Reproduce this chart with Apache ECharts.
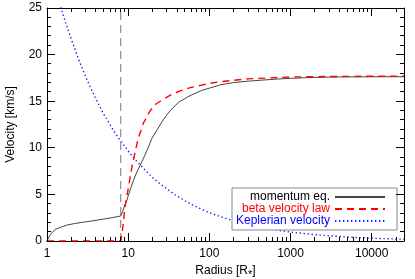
<!DOCTYPE html>
<html><head><meta charset="utf-8">
<script src="https://cdn.jsdelivr.net/npm/echarts@6/dist/echarts.min.js"></script>
<style>html,body{margin:0;padding:0;background:#fff}#c{width:415px;height:279px}</style>
</head><body><div id="c"></div>
<script>
// Data
const radiusMomentum = [1, 1.1, 1.26, 1.5, 1.75, 2.2, 2.8, 3.4, 4.2, 5.2, 6.5, 8.1, 8.5, 9.0, 9.65, 10.5, 11.6, 12.8, 14, 15.5, 17, 19.6, 22.6, 27, 33, 42, 58, 80, 100, 136, 200, 300, 425, 700, 1000, 1900, 4000, 10000, 25000];
const vMomentum      = [0, 0.7, 1.25, 1.5, 1.7, 1.88, 2.02, 2.12, 2.25, 2.38, 2.52, 2.68, 3.1, 3.75, 4.4, 5.4, 6.5, 7.4, 8.1, 8.9, 9.7, 11.0, 11.9, 13.0, 14.0, 14.9, 15.6, 16.15, 16.4, 16.75, 17.0, 17.15, 17.25, 17.38, 17.45, 17.55, 17.6, 17.62, 17.63];
const radiusBeta     = [1, 8.1, 8.25, 8.6, 9.15, 10.1, 11.1, 12.8, 13.4, 15.5, 18.7, 22, 27, 34, 43.8, 58, 77.5, 100, 137, 300, 1000, 3000, 25000];
const vBeta          = [0, 0, 0.4, 1.5, 3.7, 5.8, 7.9, 10.4, 11.1, 12.7, 14.0, 14.7, 15.2, 15.7, 16.1, 16.45, 16.7, 16.9, 17.1, 17.4, 17.6, 17.65, 17.7];
const radiusKepler   = [1, 1.2, 1.45, 1.7, 2, 2.5, 3, 3.5, 4, 5, 6, 7, 8, 10, 12, 15, 20, 25, 30, 40, 50, 60, 80, 100, 140, 200, 300, 500, 700, 1000, 1500, 2000, 3000, 5000, 7000, 10000, 15000, 25000];
const vKepler        = [30.5, 27.8, 25.3, 23.4, 21.6, 19.3, 17.6, 16.3, 15.25, 13.6, 12.45, 11.5, 10.8, 9.65, 8.8, 7.9, 6.8, 6.1, 5.57, 4.82, 4.31, 3.94, 3.41, 3.05, 2.58, 2.16, 1.76, 1.36, 1.15, 0.96, 0.79, 0.68, 0.56, 0.43, 0.36, 0.3, 0.25, 0.19];
const vertLineR = 8.1;
const xTickLabels = ['1', '10', '100', '1000', '10000'];
const yTicks = [0, 5, 10, 15, 20, 25];
const names = ['momentum eq.', 'beta velocity law', 'Keplerian velocity'];

const zip = (a, b) => a.map((x, i) => [x, b[i]]);
const X_MIN = 1, X_MAX = 25000, Y_MIN = yTicks[0], Y_MAX = yTicks[yTicks.length - 1];
// tick positions (axis decoration): [value, isMajor]
const xTickVals = [];
for (let d = 1; d <= 10000; d *= 10) for (let k = 1; k <= 9; k++) if (d * k <= X_MAX) xTickVals.push([d * k, k === 1]);
const yTickVals = [];
for (let v = Y_MIN; v <= Y_MAX; v += 1) yTickVals.push([v, v % 5 === 0]);

const FONT = 'Liberation Sans';
const chart = echarts.init(document.getElementById('c'), null, {renderer: 'canvas'});
const axisLineStyle = {show: true, onZero: false, lineStyle: {color: '#000', width: 1}};
const xBase = {
  type: 'log', logBase: 10, min: X_MIN, max: X_MAX,
  axisLine: axisLineStyle, splitLine: {show: false},
  axisTick: {show: false}, minorTick: {show: false}
};
const yBase = {
  type: 'value', min: Y_MIN, max: Y_MAX, interval: 5,
  axisLine: axisLineStyle, splitLine: {show: false},
  axisTick: {show: false}, minorTick: {show: false}
};
chart.setOption({
  animation: false,
  grid: {left: 47, right: 11, top: 8, bottom: 38, containLabel: false, outerBoundsMode: 'none'},
  xAxis: [
    Object.assign({}, xBase, {
      position: 'bottom',
      axisLabel: {color: '#000', fontFamily: FONT, fontSize: 12, margin: 7,
        formatter: v => xTickLabels[Math.round(Math.log10(v))] || ''},
      name: 'Radius [R{s|*}]', nameLocation: 'middle', nameGap: 21,
      nameTextStyle: {color: '#000', fontFamily: FONT, fontSize: 12,
        rich: {s: {fontSize: 11, fontFamily: FONT, color: '#000', padding: [7, 0, 0, 0]}}}
    }),
    Object.assign({}, xBase, {position: 'top', axisLabel: {show: false}})
  ],
  yAxis: [
    Object.assign({}, yBase, {
      position: 'left',
      axisLabel: {color: '#000', fontFamily: FONT, fontSize: 12, margin: 5},
      name: 'Velocity [km/s]', nameLocation: 'middle', nameGap: 30,
      nameTextStyle: {color: '#000', fontFamily: FONT, fontSize: 12}
    }),
    Object.assign({}, yBase, {position: 'right', axisLabel: {show: false}})
  ],
  legend: {
    show: true, orient: 'vertical', align: 'right',
    left: 232, top: 188,
    backgroundColor: '#fff', borderColor: '#888', borderWidth: 1,
    padding: [3, 11, 3, 3], itemGap: 0, itemWidth: 50, itemHeight: 12,
    itemStyle: {opacity: 0},
    data: [
      {name: names[0], textStyle: {color: '#000'}},
      {name: names[1], textStyle: {color: '#ff0000'}},
      {name: names[2], textStyle: {color: '#0000ff'}}
    ],
    formatter: n => '{t|' + n + '}',
    textStyle: {fontFamily: FONT, fontSize: 12, lineHeight: 12,
      rich: {t: {width: 95, align: 'right', fontFamily: FONT, fontSize: 12, lineHeight: 12}}}
  },
  series: [
    {
      name: names[2], type: 'line', data: zip(radiusKepler, vKepler),
      showSymbol: false, symbol: 'none', clip: true,
      lineStyle: {color: '#2020ff', width: 1.4, type: [1.4, 2.6]},
      itemStyle: {color: '#2020ff'}, z: 3
    },
    {
      name: names[0], type: 'line', data: zip(radiusMomentum, vMomentum),
      showSymbol: false, symbol: 'none', clip: true,
      lineStyle: {color: '#444', width: 1}, itemStyle: {color: '#444'}, z: 4
    },
    {
      name: names[1], type: 'line', data: zip(radiusBeta, vBeta),
      showSymbol: false, symbol: 'none', clip: true,
      lineStyle: {color: '#ff0000', width: 1.4, type: [7, 5]}, itemStyle: {color: '#ff0000'}, z: 5
    },
    {
      name: 'vline', type: 'line', data: [[vertLineR, Y_MIN], [vertLineR, Y_MAX]],
      showSymbol: false, symbol: 'none', silent: true,
      lineStyle: {color: '#777', width: 1, type: [8, 5]}, z: 2
    }
  ]
});

// Axis ticks on all four sides, positioned through the chart's own scales.
const finder = {xAxisIndex: 0, yAxisIndex: 0};
const tickEls = [];
const rect = (x, y, w, h) => ({type: 'rect', zlevel: 1, z: 100, silent: true,
  shape: {x: x, y: y, width: w, height: h}, style: {fill: '#000'}});
xTickVals.forEach(([v, major]) => {
  const len = major ? 8 : 4;
  const b = chart.convertToPixel(finder, [v, Y_MIN]);
  const t = chart.convertToPixel(finder, [v, Y_MAX]);
  const x = Math.floor(b[0]);
  tickEls.push(rect(x, Math.round(b[1]) - len, 1, len));
  tickEls.push(rect(x, Math.round(t[1]), 1, len));
});
yTickVals.forEach(([v, major]) => {
  const len = major ? 8 : 4;
  const l = chart.convertToPixel(finder, [X_MIN, v]);
  const r = chart.convertToPixel(finder, [X_MAX, v]);
  const y = Math.floor(l[1]);
  tickEls.push(rect(Math.round(l[0]), y, len, 1));
  tickEls.push(rect(Math.round(r[0]) - len, y, len, 1));
});
chart.setOption({graphic: {elements: tickEls}});
</script></body></html>
